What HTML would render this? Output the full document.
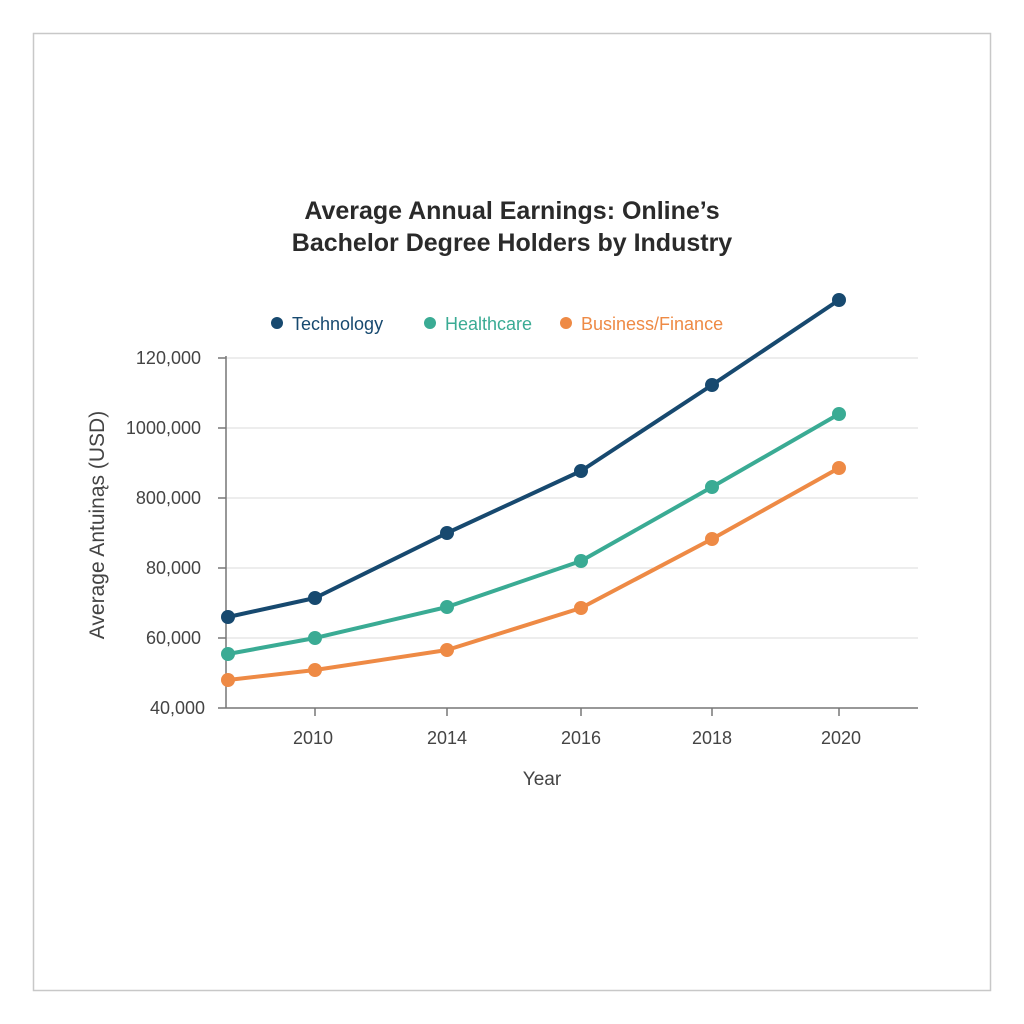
<!DOCTYPE html>
<html><head><meta charset="utf-8"><style>
html,body{margin:0;padding:0;background:#fff;}
svg{display:block;font-family:"Liberation Sans",sans-serif;}
</style></head><body>
<svg width="1024" height="1024" viewBox="0 0 1024 1024">
<rect x="0" y="0" width="1024" height="1024" fill="#fff"/>
<rect x="33.5" y="33.5" width="957" height="957" fill="#fff" stroke="#c8c8c8" stroke-width="1.5"/>
<text x="512" y="219" text-anchor="middle" font-size="25" font-weight="bold" fill="#2a2a2a">Average Annual Earnings: Online’s</text>
<text x="512" y="251" text-anchor="middle" font-size="25" font-weight="bold" fill="#2a2a2a">Bachelor Degree Holders by Industry</text>
<circle cx="277" cy="323" r="6" fill="#17496f"/>
<text x="292" y="330" font-size="18" fill="#17496f">Technology</text>
<circle cx="430" cy="323" r="6" fill="#3aab94"/>
<text x="445" y="330" font-size="18" fill="#3aab94">Healthcare</text>
<circle cx="566" cy="323" r="6" fill="#ee8a45"/>
<text x="581" y="330" font-size="18" fill="#ee8a45">Business/Finance</text>
<g stroke="#e2e2e2" stroke-width="1.2">
<line x1="226" y1="358" x2="918" y2="358"/><line x1="226" y1="428" x2="918" y2="428"/>
<line x1="226" y1="498" x2="918" y2="498"/><line x1="226" y1="568" x2="918" y2="568"/>
<line x1="226" y1="638" x2="918" y2="638"/>
</g>
<g stroke="#777" stroke-width="1.5">
<line x1="226" y1="356" x2="226" y2="708"/><line x1="218" y1="708" x2="918" y2="708"/>
<line x1="218" y1="358" x2="226" y2="358"/><line x1="218" y1="428" x2="226" y2="428"/>
<line x1="218" y1="498" x2="226" y2="498"/><line x1="218" y1="568" x2="226" y2="568"/>
<line x1="218" y1="638" x2="226" y2="638"/>
<line x1="315" y1="708" x2="315" y2="716"/><line x1="447" y1="708" x2="447" y2="716"/>
<line x1="581" y1="708" x2="581" y2="716"/><line x1="712" y1="708" x2="712" y2="716"/>
<line x1="839" y1="708" x2="839" y2="716"/>
</g>
<g font-size="18" fill="#444" text-anchor="end">
<text x="201" y="364">120,000</text><text x="201" y="434">1000,000</text>
<text x="201" y="504">800,000</text><text x="201" y="574">80,000</text>
<text x="201" y="644">60,000</text><text x="205" y="714">40,000</text>
</g>
<g font-size="18" fill="#444" text-anchor="middle">
<text x="313" y="744">2010</text><text x="447" y="744">2014</text>
<text x="581" y="744">2016</text><text x="712" y="744">2018</text>
<text x="841" y="744">2020</text>
<text x="542" y="785" font-size="19">Year</text>
</g>
<text transform="translate(104,525) rotate(-90)" text-anchor="middle" font-size="21" fill="#444">Average Antuinąs (USD)</text>
<g fill="none" stroke-width="4" stroke-linejoin="round">
<polyline stroke="#17496f" points="228,617 315,598 447,533 581,471 712,385 839,300"/>
<polyline stroke="#3aab94" points="228,654 315,638 447,607 581,561 712,487 839,414"/>
<polyline stroke="#ee8a45" points="228,680 315,670 447,650 581,608 712,539 839,468"/>
</g>
<g fill="#17496f"><circle cx="228" cy="617" r="7"/><circle cx="315" cy="598" r="7"/><circle cx="447" cy="533" r="7"/><circle cx="581" cy="471" r="7"/><circle cx="712" cy="385" r="7"/><circle cx="839" cy="300" r="7"/></g>
<g fill="#3aab94"><circle cx="228" cy="654" r="7"/><circle cx="315" cy="638" r="7"/><circle cx="447" cy="607" r="7"/><circle cx="581" cy="561" r="7"/><circle cx="712" cy="487" r="7"/><circle cx="839" cy="414" r="7"/></g>
<g fill="#ee8a45"><circle cx="228" cy="680" r="7"/><circle cx="315" cy="670" r="7"/><circle cx="447" cy="650" r="7"/><circle cx="581" cy="608" r="7"/><circle cx="712" cy="539" r="7"/><circle cx="839" cy="468" r="7"/></g>
</svg>
</body></html>
